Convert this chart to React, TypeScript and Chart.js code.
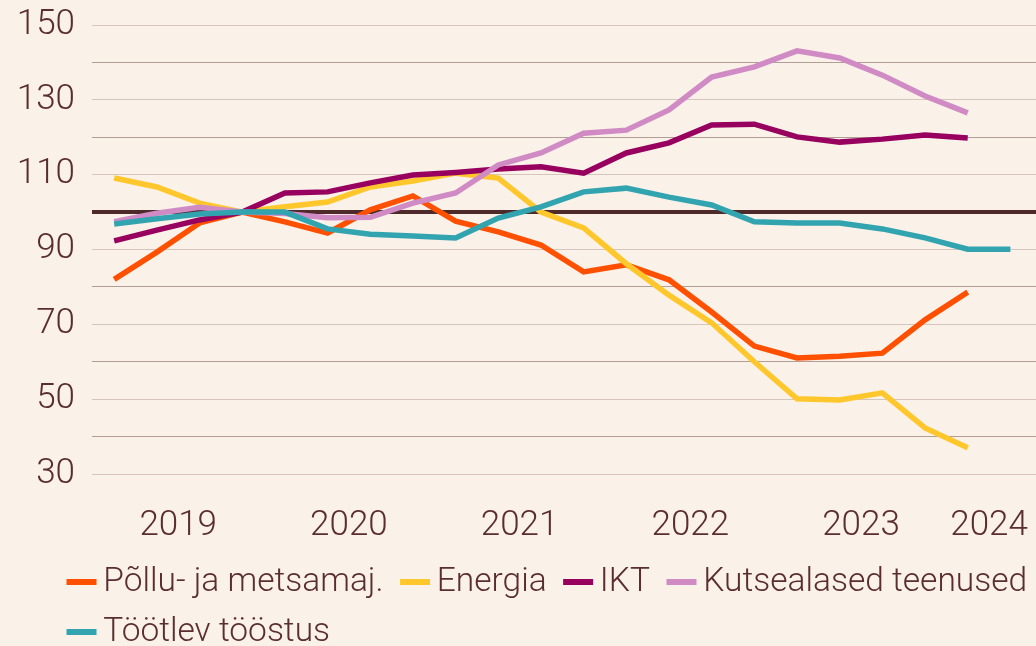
import React, { useEffect, useRef } from 'react';
import { Chart, registerables } from 'chart.js';

Chart.register(...registerables);

// ---------- data ----------
const quarters = [
  '2019Q1', '2019Q2', '2019Q3', '2019Q4',
  '2020Q1', '2020Q2', '2020Q3', '2020Q4',
  '2021Q1', '2021Q2', '2021Q3', '2021Q4',
  '2022Q1', '2022Q2', '2022Q3', '2022Q4',
  '2023Q1', '2023Q2', '2023Q3', '2023Q4',
  '2024Q1', '2024Q2',
];
const yearLabels = ['2019', '2020', '2021', '2022', '2023', '2024'];
const seriesNames = ['Põllu- ja metsamaj.', 'Energia', 'IKT', 'Kutsealased teenused', 'Töötlev tööstus'];

const polluMets = [82, 89.3, 97.1, 100, 97.4, 94.4, 100.6, 104.3, 97.6, 94.7, 91.2, 84.0, 85.9, 81.9, 73.3, 64.2, 61.0, 61.5, 62.3, 71.2, 78.6, null];
const energia = [109.1, 106.7, 102.4, 100, 101.4, 102.7, 106.7, 108.3, 110.4, 109.1, 100, 95.8, 86.2, 77.8, 70.4, 60, 50.1, 49.8, 51.7, 42.3, 37.0, null];
const ikt = [92.3, 95.2, 97.9, 100, 105.1, 105.4, 107.8, 109.9, 110.6, 111.5, 112.1, 110.4, 115.8, 118.5, 123.3, 123.5, 120.1, 118.7, 119.5, 120.6, 119.8, null];
const kutse = [97.4, 99.7, 101.3, 100, 99.6, 98.5, 98.6, 102.4, 105.1, 112.6, 115.8, 121.1, 121.9, 127.3, 136.1, 138.8, 143.1, 141.2, 136.6, 131.0, 126.5, null];
const tootlev = [96.8, 98.2, 99.5, 100, 100, 95.5, 94.1, 93.6, 93.1, 98.4, 101.4, 105.4, 106.4, 104.0, 101.9, 97.4, 97.1, 97.1, 95.5, 93.1, 90.1, 90.1];

const yTickLabels = [30, 50, 70, 90, 110, 130, 150];
const baseValue = 100;

// ---------- styles ----------
const seriesColors = ['#FF5000', '#FFC72C', '#98005F', '#D08BC5', '#32A4AF'];
const textColor = '#5a2e2e';
const bgColor = '#faf1e9';
const legendIndent = 50;

function makeMarker(color: string) {
  const c = document.createElement('canvas');
  c.width = 60;
  c.height = 6;
  const g = c.getContext('2d');
  if (g) {
    g.fillStyle = color;
    g.fillRect(20, 0, 30, 6);
  }
  return c;
}

const legendShift = {
  id: 'legendShift',
  afterLayout(chart: any) {
    if (chart.legend) {
      chart.legend.left += legendIndent;
      chart.legend.right += legendIndent;
    }
  },
};

export default function App() {
  const ref = useRef<HTMLCanvasElement | null>(null);

  useEffect(() => {
    if (!ref.current) return;
    const allSeries = [polluMets, energia, ikt, kutse, tootlev];
    // year tick = mean index of that year's quarters
    const yearTicks = yearLabels.map((y) => {
      const idx = quarters.map((q, i) => (q.startsWith(y) ? i : -1)).filter((i) => i >= 0);
      return idx.reduce((a, b) => a + b, 0) / idx.length;
    });
    const markers = seriesColors.map(makeMarker);

    const chart = new Chart(ref.current, {
      type: 'line',
      data: {
        datasets: allSeries.map((vals, i) => ({
          label: seriesNames[i],
          data: vals.map((v, j) => ({ x: j, y: v })),
          borderColor: seriesColors[i],
          backgroundColor: seriesColors[i],
          borderWidth: 5.5,
          pointRadius: 0,
          tension: 0,
          fill: false,
          order: allSeries.length - i,
        })),
      },
      plugins: [legendShift],
      options: {
        animation: false,
        responsive: false,
        maintainAspectRatio: false,
        layout: { padding: { left: 0, top: 0, right: 0, bottom: 0 } },
        font: { family: 'Roboto', weight: '300' } as any,
        plugins: {
          tooltip: { enabled: false },
          legend: {
            position: 'bottom',
            align: 'start',
            labels: {
              usePointStyle: true,
              pointStyleWidth: 20,
              padding: 16.5,
              color: textColor,
              font: { family: 'Roboto', weight: '300', size: 33.5 } as any,
              sort: (a: any, b: any) => a.datasetIndex - b.datasetIndex,
              generateLabels: (ch: any) => {
                const items = (Chart.defaults.plugins.legend.labels as any).generateLabels(ch);
                items.forEach((it: any) => {
                  it.pointStyle = markers[it.datasetIndex];
                });
                return items;
              },
            },
          },
        },
        scales: {
          x: {
            type: 'linear',
            min: -0.52,
            max: 21.6,
            grid: { display: false, drawTicks: false },
            border: { display: false },
            afterBuildTicks: (s: any) => {
              s.ticks = yearTicks.map((v) => ({ value: v }));
            },
            afterFit: (s: any) => {
              s.height = 75;
            },
            ticks: {
              autoSkip: false,
              maxRotation: 0,
              padding: 0,
              color: textColor,
              font: { family: 'Roboto', weight: '300', size: 35, lineHeight: '104px' } as any,
              callback: (_v: any, i: number) => yearLabels[i],
            },
          },
          y: {
            min: 30,
            max: 150,
            afterFit: (s: any) => {
              s.width = 92;
            },
            border: { display: false },
            grid: {
              drawTicks: false,
              color: (c: any) => {
                const v = c.tick ? c.tick.value : 0;
                if (v === baseValue) return '#4f2a2a';
                return yTickLabels.includes(v) ? '#d6c5bc' : '#b39e96';
              },
              lineWidth: (c: any) => (c.tick && c.tick.value === baseValue ? 4 : 1),
            },
            ticks: {
              stepSize: 10,
              maxTicksLimit: 20,
              autoSkip: false,
              padding: 17,
              color: textColor,
              font: { family: 'Roboto', weight: '300', size: 35, lineHeight: '16px' } as any,
              callback: (v: any) => (yTickLabels.includes(Number(v)) ? String(v) : ''),
            },
          },
        },
      },
    });
    return () => chart.destroy();
  }, []);

  return (
    <div
      style={{
        position: 'fixed',
        left: 0,
        top: 0,
        width: 1036,
        height: 646,
        overflow: 'hidden',
        background: bgColor,
      }}
    >
      <canvas ref={ref} width={1036} height={659} style={{ display: 'block' }} />
    </div>
  );
}
